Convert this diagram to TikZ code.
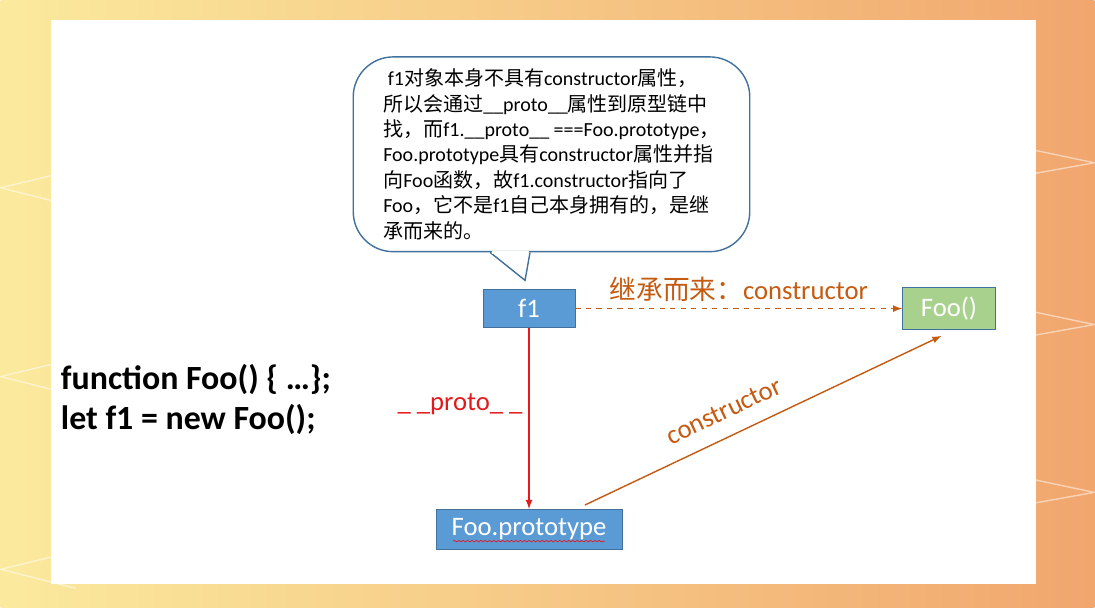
\documentclass[tikz,border=0pt]{standalone}
\usepackage{fontspec}
\setmainfont{Carlito}
\newfontfamily\cjk{Noto Sans CJK SC}
\usepackage{tikz}
\tikzset{>=latex}
\usetikzlibrary{decorations.pathmorphing}
\definecolor{boxblue}{HTML}{5B9BD5}
\definecolor{boxline}{HTML}{41719C}
\definecolor{boxgreen}{HTML}{A9D18E}
\definecolor{inherit}{HTML}{C55A11}
\definecolor{protored}{HTML}{E31A1C}
\definecolor{bgyellow}{HTML}{FBEA9E}
\definecolor{bgorange}{HTML}{F1A66E}

\begin{document}
\begin{tikzpicture}[
    obj/.style={draw=boxline, fill=boxblue, text=white, minimum height=.76cm, font=\fontsize{15.2}{17}\selectfont},
    bubble/.style={draw=boxline, fill=white, thick, rounded corners=.8cm, minimum width=7.94cm, minimum height=3.9cm, align=left, font=\fontsize{11.4}{14.5}\selectfont},
    chevron/.style={white, opacity=.5, line width=.8pt},
    tag/.style={font=\fontsize{15.2}{17}\selectfont}]
    \shade[left color=bgyellow, right color=bgorange] (0, 0) rectangle (21.9, 12.16);
    \foreach \y in {8.4, 4.62, 0.76} {
        \draw[chevron] (1.5, \y+.36) -- (0, \y) -- (1.5, \y-.38);
    }
    \foreach \y in {8.9, 5.66, 2.3} {
        \draw[chevron] (20, \y+.4) -- (21.9, \y) -- (20, \y-.34);
    }
    \fill[white] (1, .46) rectangle (20.74, 11.76);
    \node[bubble] (note) at (11.03, 9.07) {\ f1{\cjk 对象本身不具有}constructor{\cjk 属性，}\\
        {\cjk 所以会通过}\_\_proto\_\_{\cjk 属性到原型链中}\\
        {\cjk 找，而}f1.\_\_proto\_\_ ===Foo.prototype{\cjk ，}\\
        Foo.prototype{\cjk 具有}constructor{\cjk 属性并指}\\
        {\cjk 向}Foo{\cjk 函数，故}f1.constructor{\cjk 指向了}\\
        Foo{\cjk ，它不是}f1{\cjk 自己本身拥有的，是继}\\
        {\cjk 承而来的。}};
    \draw[boxline, thick, fill=white] ([xshift=-1.23cm]note.south) -- ([shift={(-.53, -.56)}]note.south) -- ([xshift=-.43cm]note.south);
    \draw[white, line width=1.5pt] ([xshift=-1.2cm]note.south) -- ([xshift=-.46cm]note.south);
    \node[obj, minimum width=1.84cm] (f1) at (10.58, 5.98) {f1};
    \node[obj, fill=boxgreen, minimum width=1.86cm, minimum height=.84cm] (foo) at (18.99, 5.98) {Foo()};
    \node[obj, minimum width=3.72cm, minimum height=.8cm] (proto) at (10.58, 1.56) {Foo.prototype};
    \node[anchor=west, align=left, inner xsep=0, font=\fontsize{19.3}{22.7}\selectfont\bfseries] (code) at (1.2, 4.16) {function Foo() \{ …\};\\let f1 = new Foo();};
    \draw[->, dashed, inherit, thick] (f1) -- (foo) node[midway, above, tag] {{\cjk 继承而来：}constructor};
    \draw[->, protored, thick] (f1) -- (proto) node[pos=.42, left, tag] {\_ \_proto\_ \_};
    \draw[->, inherit, thick] ([shift={(1.12, .08)}]proto.north) -- ([shift={(-.15, -.12)}]foo.south) node[pos=.42, sloped, above=.2cm, tag] {constructor};
    \draw[protored, decorate, decoration={snake, amplitude=.4pt, segment length=2.5pt}] ([shift={(-1.52, .17)}]proto.south) -- ([shift={(1.52, .17)}]proto.south);
\end{tikzpicture}
\end{document}
